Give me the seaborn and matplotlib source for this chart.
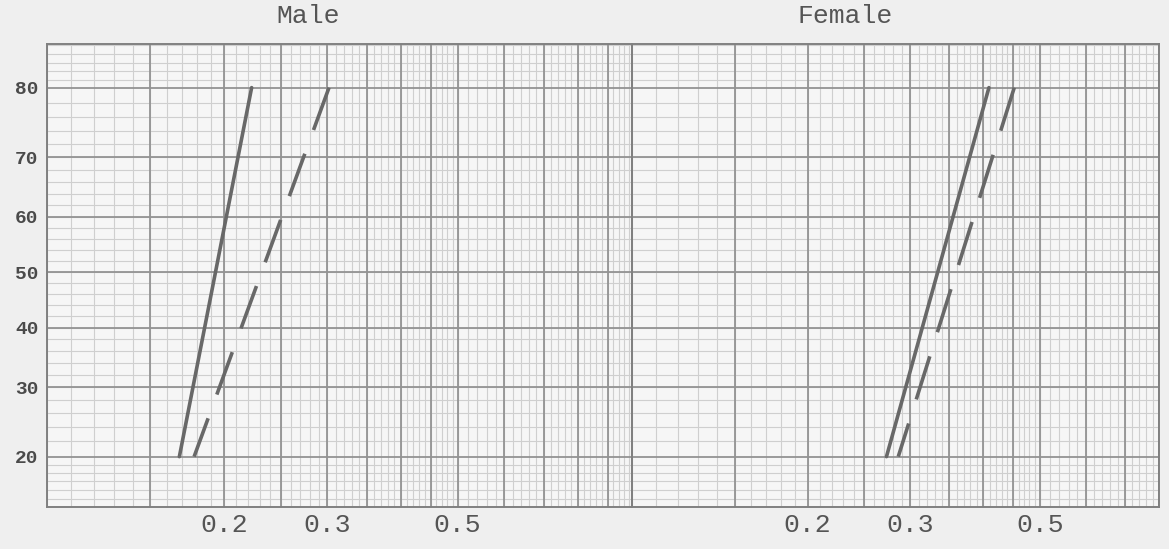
import math
from statistics import NormalDist

import numpy as np
import pandas as pd
import matplotlib
matplotlib.use('Agg')
import matplotlib.pyplot as plt
import seaborn as sns

# valores (papel log-probabilidade)
pct = [20, 80]
male_solid = [0.168, 0.223]
male_dashed = [0.178, 0.302]
female_solid = [0.273, 0.409]
female_dashed = [0.286, 0.452]

age_ticks = [20, 30, 40, 50, 60, 70, 80]
x_ticks = [0.2, 0.3, 0.5]
x_ticklabels = ['0.2', '0.3', '0.5']

sns.set_style('white')
plt.rcParams['font.family'] = ['Liberation Mono', 'DejaVu Sans Mono']

_nd = NormalDist()
_ppf = np.vectorize(lambda p: _nd.inv_cdf(min(max(p / 100.0, 1e-9), 1 - 1e-9)), otypes=[float])
_cdf = np.vectorize(lambda z: 100.0 * 0.5 * (1 + math.erf(z / math.sqrt(2))), otypes=[float])


def probit(p):
    return _ppf(np.asarray(p, dtype=float))


def inv_probit(z):
    return _cdf(np.asarray(z, dtype=float))


fig = plt.figure(figsize=(11.69, 5.49), dpi=100)
fig.patch.set_facecolor('#efefef')

ax_m = fig.add_axes([0.0402, 0.0765, 0.5004, 0.8434])
ax_f = fig.add_axes([0.5406, 0.0765, 0.4508, 0.8434])

minor_y = list(range(15, 20)) + list(range(22, 80, 2)) + list(range(81, 86))
mid_x = [0.1, 0.15, 0.2, 0.25, 0.3, 0.35, 0.4, 0.45, 0.5, 0.6, 0.7, 0.8, 0.9, 1.0]
minor_x = [round(0.1 + 0.01 * i, 2) for i in range(41)] + [round(0.5 + 0.02 * i, 2) for i in range(26)]

for ax, xlim in [(ax_m, (0.1, 0.99)), (ax_f, (0.1, 0.8))]:
    ax.set_facecolor('#f6f6f6')
    ax.set_xscale('log')
    ax.set_yscale('function', functions=(probit, inv_probit))
    ax.set_xlim(*xlim)
    ax.set_ylim(14.2, 85.1)
    ax.vlines(minor_x, 0, 1, transform=ax.get_xaxis_transform(), colors='#cfcfcf', lw=0.8, zorder=0)
    ax.hlines(minor_y, 0, 1, transform=ax.get_yaxis_transform(), colors='#cfcfcf', lw=0.8, zorder=0)
    ax.vlines(mid_x, 0, 1, transform=ax.get_xaxis_transform(), colors='#939393', lw=1.3, zorder=1)
    ax.hlines(age_ticks, 0, 1, transform=ax.get_yaxis_transform(), colors='#939393', lw=1.3, zorder=1)
    ax.xaxis.set_major_locator(matplotlib.ticker.FixedLocator(x_ticks))
    ax.xaxis.set_major_formatter(matplotlib.ticker.FixedFormatter(x_ticklabels))
    ax.xaxis.set_minor_locator(matplotlib.ticker.NullLocator())
    ax.yaxis.set_major_locator(matplotlib.ticker.FixedLocator(age_ticks))
    ax.yaxis.set_minor_locator(matplotlib.ticker.NullLocator())
    ax.tick_params(axis='x', length=0, pad=4, labelsize=19, labelcolor='#555555')
    ax.tick_params(axis='y', length=0, pad=6, labelsize=14, labelcolor='#4a4a4a')
    for s in ax.spines.values():
        s.set_color('#808080')
        s.set_linewidth(1.4)

ax_m.yaxis.set_major_formatter(matplotlib.ticker.FixedFormatter([str(a) for a in age_ticks]))
for lbl in ax_m.get_yticklabels():
    lbl.set_fontweight('bold')
ax_f.set_yticklabels([])

# ordem de cima para baixo, para os tracos comecarem no 80
df = pd.DataFrame({
    'x': male_solid[::-1] + male_dashed[::-1] + female_solid[::-1] + female_dashed[::-1],
    'p': pct[::-1] * 4,
    'sex': ['Male'] * 4 + ['Female'] * 4,
    'kind': ['solid'] * 2 + ['dashed'] * 2 + ['solid'] * 2 + ['dashed'] * 2,
})

for ax, sex in [(ax_m, 'Male'), (ax_f, 'Female')]:
    d = df[df['sex'] == sex]
    sns.lineplot(data=d[d['kind'] == 'solid'], x='x', y='p', ax=ax, color='#686868',
                 lw=2.6, estimator=None, sort=False, zorder=3)
    sns.lineplot(data=d[d['kind'] == 'dashed'], x='x', y='p', ax=ax, color='#686868',
                 lw=2.6, estimator=None, sort=False, zorder=3, linestyle=(0, (12.5, 7)))
    ax.set_xlabel('')
    ax.set_ylabel('')

fig.text(308 / 1169, 1 - 16 / 549, 'Male', ha='center', va='center', fontsize=19, color='#555555')
fig.text(845 / 1169, 1 - 16 / 549, 'Female', ha='center', va='center', fontsize=19, color='#555555')

fig.savefig('out.png', dpi=100, facecolor=fig.get_facecolor())
